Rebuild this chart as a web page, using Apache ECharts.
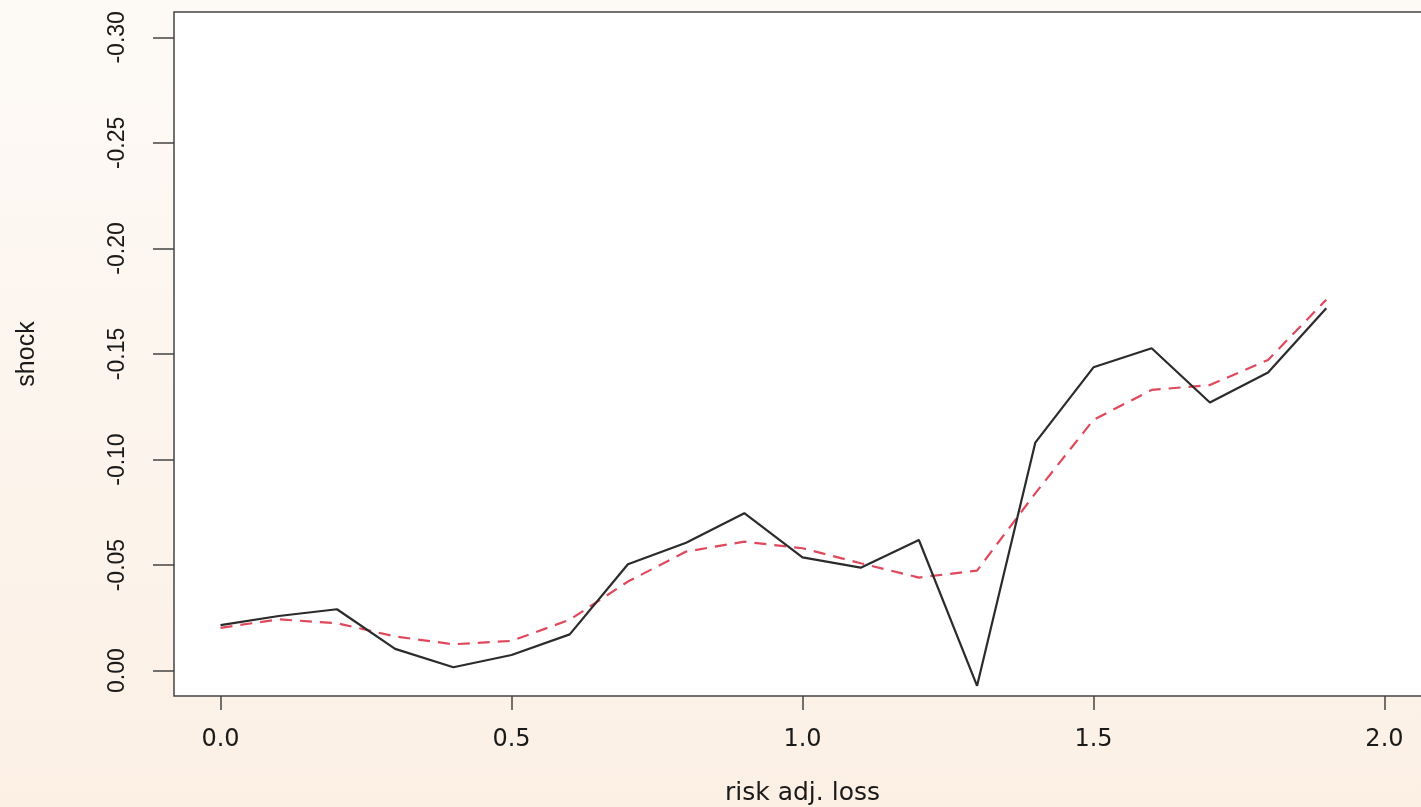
<!DOCTYPE html>
<html>
<head>
<meta charset="utf-8">
<title>shock vs risk adj. loss</title>
<script src="https://cdn.jsdelivr.net/npm/echarts@6/dist/echarts.min.js"></script>
<style>
  html, body { margin: 0; padding: 0; }
  #chart { width: 1421px; height: 807px; }
</style>
</head>
<body>
<div id="chart"></div>
<script>
// risk adj. loss grid
var xValues = [0.0, 0.1, 0.2, 0.3, 0.4, 0.5, 0.6, 0.7, 0.8, 0.9,
               1.0, 1.1, 1.2, 1.3, 1.4, 1.5, 1.6, 1.7, 1.8, 1.9];
// solid black line
var shockObserved = [-0.0216, -0.0259, -0.0291, -0.0103, -0.0016, -0.0074, -0.0172, -0.0504, -0.0606, -0.0746,
                     -0.0537, -0.0488, -0.0619, 0.0072, -0.1080, -0.1437, -0.1527, -0.1270, -0.1412, -0.1717];
// red dashed (smoothed) line
var shockSmooth = [-0.0203, -0.0243, -0.0225, -0.0162, -0.0125, -0.0141, -0.0241, -0.0422, -0.0564, -0.0611,
                   -0.0580, -0.0509, -0.0441, -0.0474, -0.0840, -0.1188, -0.1330, -0.1353, -0.1472, -0.1757];
var xTicks = [0.0, 0.5, 1.0, 1.5, 2.0];
var yTicks = [-0.30, -0.25, -0.20, -0.15, -0.10, -0.05, 0.00];

function pairs(ys) {
  return xValues.map(function (x, i) { return [x, ys[i]]; });
}

var chart = echarts.init(document.getElementById('chart'));
chart.setOption({
  animation: false,
  backgroundColor: {
    type: 'linear', x: 0, y: 0, x2: 0, y2: 1,
    colorStops: [{ offset: 0, color: '#fdfaf6' }, { offset: 1, color: '#fcf0e5' }]
  },
  grid: {
    left: 174, top: 12, width: 1257, height: 684,
    outerBoundsMode: 'none',
    containLabel: false,
    show: true, backgroundColor: '#ffffff',
    borderColor: '#444', borderWidth: 1.5
  },
  xAxis: {
    type: 'value',
    min: -0.08, max: 2.08,
    name: 'risk adj. loss',
    nameLocation: 'middle',
    nameGap: 85,
    nameTextStyle: { fontFamily: 'DejaVu Sans', fontSize: 25, color: '#1a1a1a' },
    axisLine: { show: false, onZero: false },
    axisTick: { show: true, customValues: xTicks, length: 14, lineStyle: { color: '#444', width: 1.5 } },
    axisLabel: {
      customValues: xTicks, margin: 32,
      fontFamily: 'DejaVu Sans', fontSize: 24, color: '#1a1a1a',
      formatter: function (v) { return v.toFixed(1); }
    },
    splitLine: { show: false }
  },
  yAxis: {
    type: 'value',
    inverse: true,
    min: -0.312, max: 0.012,
    name: 'shock',
    nameLocation: 'middle',
    nameRotate: 90,
    nameGap: 134,
    nameTextStyle: { fontFamily: 'Liberation Sans', fontSize: 25, color: '#1a1a1a' },
    axisLine: { show: false, onZero: false },
    axisTick: { show: true, customValues: yTicks, length: 21, lineStyle: { color: '#444', width: 1.5 } },
    axisLabel: {
      customValues: yTicks, rotate: 90, margin: 45,
      fontFamily: 'Liberation Sans', fontSize: 23, color: '#1a1a1a',
      formatter: function (v) { return v.toFixed(2); }
    },
    splitLine: { show: false }
  },
  series: [{
    name: 'observed',
    type: 'line',
    data: pairs(shockObserved),
    symbol: 'none',
    clip: false,
    lineStyle: { color: '#2b2b2b', width: 2.2 },
    z: 3
  }, {
    name: 'smoothed',
    type: 'line',
    data: pairs(shockSmooth),
    symbol: 'none',
    clip: false,
    lineStyle: { color: '#e0485c', width: 2.2, type: [12, 8] },
    z: 2
  }]
});
</script>
</body>
</html>
